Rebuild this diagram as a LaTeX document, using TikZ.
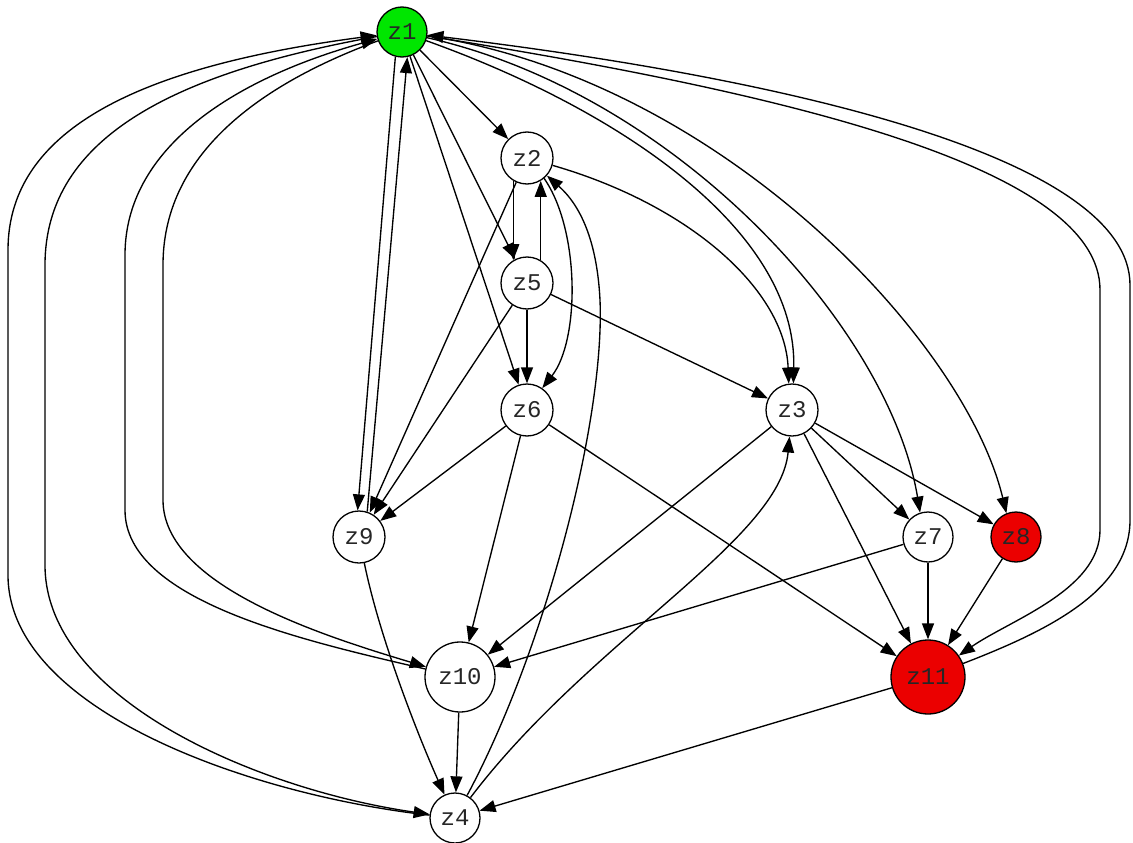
\documentclass[tikz,border=0pt]{standalone}
\usepackage{fontspec}
\setmonofont{Liberation Mono}
\usetikzlibrary{arrows.meta}
\begin{document}
\begin{tikzpicture}[x=1pt,y=-1pt,
  nd/.style={circle,draw,line width=1.3pt,inner sep=0pt,font=\ttfamily\fontsize{24}{24}\selectfont,text=black!85},
  e/.style={line width=1.35pt,-{Triangle[length=16pt,width=12pt]}}]
\useasboundingbox (0,0) rectangle (1133,843);
\definecolor{gvgreen}{RGB}{0,230,0}
\definecolor{gvred}{RGB}{235,0,0}
% nodes
\node[nd,fill=gvgreen,minimum size=50pt] (z1) at (402,32) {z1};
\node[nd,minimum size=52pt] (z2) at (527,158) {z2};
\node[nd,minimum size=52pt] (z5) at (527,283) {z5};
\node[nd,minimum size=52pt] (z6) at (527,410) {z6};
\node[nd,minimum size=52pt] (z3) at (792,410) {z3};
\node[nd,minimum size=52pt] (z9) at (359,537) {z9};
\node[nd,minimum size=50pt] (z7) at (928,537) {z7};
\node[nd,fill=gvred,minimum size=50pt] (z8) at (1016,537) {z8};
\node[nd,minimum size=70pt] (z10) at (460,677) {z10};
\node[nd,fill=gvred,minimum size=74pt] (z11) at (928,677) {z11};
\node[nd,minimum size=50pt] (z4) at (455,818) {z4};
% left loops
\draw[e] (z4) .. controls (250,795) and (8,710) .. (8,575) -- (8,250) .. controls (8,125) and (150,65) .. (z1);
\draw[e] (z1) .. controls (180,72) and (45,135) .. (45,265) -- (45,565) .. controls (45,700) and (260,790) .. (z4);
\draw[e] (z10) .. controls (300,640) and (125,600) .. (125,510) -- (125,255) .. controls (125,150) and (230,80) .. (z1);
\draw[e] (z1) .. controls (250,88) and (163,160) .. (163,265) -- (163,500) .. controls (163,585) and (320,635) .. (z10);
% right loops
\draw[e] (z1) .. controls (800,95) and (1100,170) .. (1100,290) -- (1100,530) .. controls (1100,590) and (1010,620) .. (z11);
\draw[e] (z11) .. controls (1050,630) and (1130,590) .. (1130,520) -- (1130,285) .. controls (1130,160) and (800,80) .. (z1);
% from z1
\draw[e] (z1) -- (z2);
\draw[e] (z1) -- (z5);
\draw[e] (z1) -- (z6);
\draw[e] (z1.-105) -- (z9.93);
\draw[e] (z9.72) -- (z1.-78);
\draw[e] (z1) .. controls (620,110) and (797,230) .. (z3.87);
\draw[e] (z1) .. controls (680,95) and (890,330) .. (z7.108);
\draw[e] (z1) .. controls (720,80) and (965,340) .. (z8.112);
% z2
\draw[e] (z2.-121) -- (z5.121);
\draw[e] (z5.59) -- (z2.-59);
\draw[e] (z2.-50) .. controls (580,230) and (580,340) .. (z6.55);
\draw[e] (z2) -- (z9);
\draw[e] (z2) .. controls (690,205) and (785,290) .. (z3.97);
% z5
\draw[e] (z5) -- (z6);
\draw[e] (z5) -- (z9);
\draw[e] (z5) -- (z3);
% z6
\draw[e] (z6) -- (z9);
\draw[e] (z6) -- (z10);
\draw[e] (z6) -- (z11);
% z3
\draw[e] (z3) -- (z10);
\draw[e] (z3) -- (z7);
\draw[e] (z3) -- (z8);
\draw[e] (z3) -- (z11);
% z7, z8
\draw[e] (z7) -- (z11);
\draw[e] (z7) -- (z10);
\draw[e] (z8) -- (z11);
% to z4
\draw[e] (z9) .. controls (380,640) and (420,740) .. (z4);
\draw[e] (z10) -- (z4);
\draw[e] (z11) -- (z4);
% from z4
\draw[e] (z4) .. controls (545,650) and (605,420) .. (600,300) .. controls (597,240) and (580,205) .. (z2);
\draw[e] (z4) .. controls (590,640) and (780,540) .. (z3);
\end{tikzpicture}
\end{document}
